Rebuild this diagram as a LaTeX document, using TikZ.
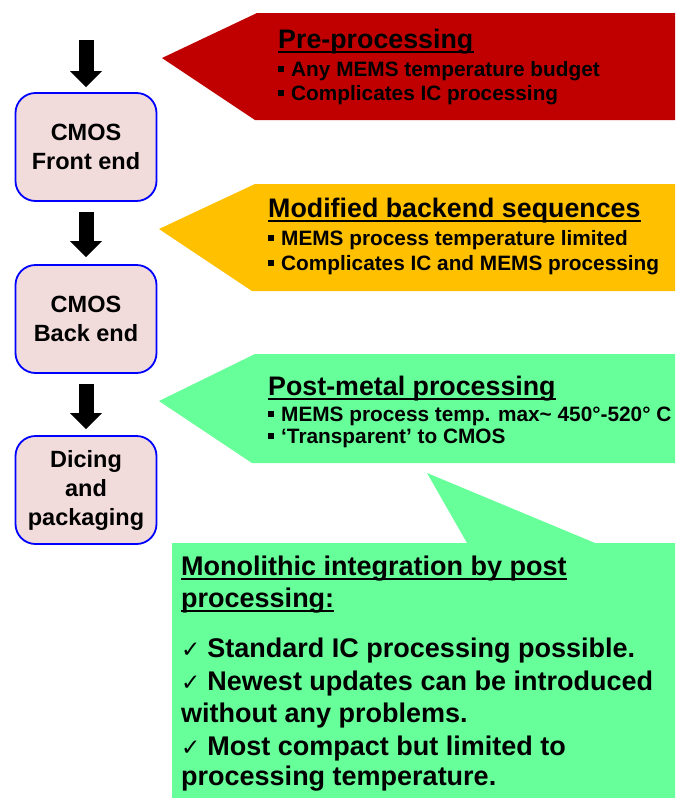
\documentclass[tikz,border=0pt]{standalone}
\usepackage{fontspec}
\setmainfont{Liberation Sans}
\newfontfamily\symfont{DejaVu Sans}
\usetikzlibrary{arrows.meta}
\definecolor{cRed}{RGB}{192,0,0}
\definecolor{cAmber}{RGB}{255,192,0}
\definecolor{cMint}{RGB}{102,255,153}
\definecolor{cPink}{RGB}{242,220,219}
\definecolor{cEdge}{RGB}{0,0,255}
\newcommand{\sqbul}{\raisebox{4pt}{\rule{6pt}{6pt}}\hspace{7pt}}
\newcommand{\tick}{{\symfont\fontsize{23}{23}\selectfont ✓}\hspace{7pt}}

\begin{document}
\begin{tikzpicture}[x=1pt,y=-1pt,
    stage/.style={draw=cEdge,line width=1.8pt,fill=cPink,rounded corners=20pt,
        minimum width=141pt,minimum height=108pt,align=center,
        font=\bfseries\fontsize{23.5}{29}\selectfont},
    flow/.style={line width=15pt,-{Triangle[width=31pt,length=16pt]}},
    head/.style={anchor=base west,inner sep=0pt,font=\bfseries\fontsize{26.8}{30}\selectfont},
    item/.style={anchor=base west,inner sep=0pt,font=\bfseries\fontsize{20.8}{24}\selectfont},
    note/.style={anchor=base west,inner sep=0pt,font=\bfseries\fontsize{27}{30}\selectfont},
    uline/.style={line width=1.6pt}]
        \useasboundingbox (0,0) rectangle (675,798);

        \node[stage] (front) at (86,147) {CMOS\\Front end};
        \node[stage] (back) at (86,319) {CMOS\\Back end};
        \node[stage] (dice) at (86,490) {Dicing\\and\\packaging};

        \coordinate (start) at (86,40);
        \draw[flow,shorten >=5pt] (start) -- (front.north);
        \draw[flow,shorten <=10pt,shorten >=7pt] (front.south) -- (back.north);
        \draw[flow,shorten <=10pt,shorten >=6pt] (back.south) -- (dice.north);

        \fill[cRed] (162,58) -- (257,13) -- (675,13) -- (675,120) -- (255,120) -- cycle;
        \node[head] (pre) at (278,48) {Pre-processing};
        \draw[uline] ([yshift=-4pt]pre.base west) -- ([yshift=-4pt]pre.base east);
        \node[item] (pre1) at (278,76) {\sqbul Any MEMS temperature budget};
        \node[item] (pre2) at (278,100) {\sqbul Complicates IC processing};

        \fill[cAmber] (159,229) -- (255,184) -- (675,184) -- (675,291) -- (252,291) -- cycle;
        \node[head] (mod) at (268,217) {Modified backend sequences};
        \draw[uline] ([yshift=-4pt]mod.base west) -- ([yshift=-4pt]mod.base east);
        \node[item] (mod1) at (268,245) {\sqbul MEMS process temperature limited};
        \node[item] (mod2) at (268,270) {\sqbul Complicates IC and MEMS processing};

        \fill[cMint] (159,401) -- (255,354) -- (675,354) -- (675,463) -- (252,463) -- cycle;
        \node[head] (post) at (268,395) {Post-metal processing};
        \draw[uline] ([yshift=-4pt]post.base west) -- ([yshift=-4pt]post.base east);
        \node[item] (post1) at (268,421) {\sqbul MEMS process temp. max\~{} 450°-520° C};
        \node[item] (post2) at (268,443) {\sqbul ‘Transparent’ to CMOS};

        \fill[cMint] (172,543) -- (467,543) -- (427,473) -- (595,543) -- (675,543) -- (675,798) -- (172,798) -- cycle;
        \node[note] (mono) at (181,575) {Monolithic integration by post};
        \draw[uline] ([yshift=-4pt]mono.base west) -- ([yshift=-4pt]mono.base east);
        \node[note] (mono2) at (181,607) {processing:};
        \draw[uline] ([yshift=-4pt]mono2.base west) -- ([yshift=-4pt]mono2.base east);
        \node[note] (gain1) at (181,657) {\tick Standard IC processing possible.};
        \node[note] (gain2) at (181,690) {\tick Newest updates can be introduced};
        \node[note] (gain2b) at (181,722) {without any problems.};
        \node[note] (gain3) at (181,755) {\tick Most compact but limited to};
        \node[note] (gain3b) at (181,785) {processing temperature.};
\end{tikzpicture}
\end{document}
